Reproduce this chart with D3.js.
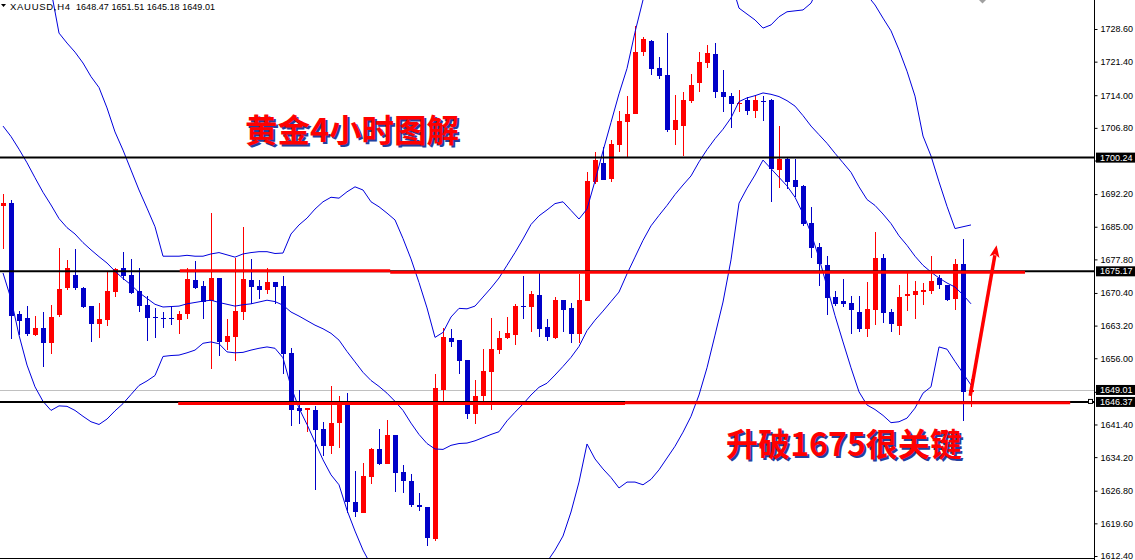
<!DOCTYPE html>
<html><head><meta charset="utf-8">
<script src="https://cdn.jsdelivr.net/npm/d3@7"></script>
<style>html,body{margin:0;padding:0;background:#fff;overflow:hidden}svg{display:block}</style>
</head><body>
<svg id="chart" width="1135" height="560"></svg>
<script>
// ---------------- DATA ----------------
const symbolLabel = "XAUUSD,H4";
const headerValues = "1648.47 1651.51 1645.18 1649.01";
const titleTop = "黄金4小时图解";
const titleBottom = "升破1675很关键";

const openP = [1689.48,1690.34,1665.84,1664.89,1661.21,1662.69,1659.47,1665.53,1671.60,1674.35,
1671.51,1667.52,1663.64,1664.52,1670.65,1675.92,1674.35,1670.83,1667.74,1665.03,
1664.92,1664.92,1664.43,1665.84,1673.16,1671.93,1668.69,1673.72,1659.62,1660.73,
1666.24,1673.16,1671.93,1671.13,1672.79,1671.93,1657.18,1644.98,1644.50,1644.59,
1640.42,1636.71,1641.81,1645.91,1624.21,1621.96,1629.88,1635.99,1632.68,1639.07,
1630.85,1628.93,1623.59,1623.17,1616.14,1649.00,1660.46,1660.02,1655.61,1643.81,
1647.72,1653.08,1657.82,1660.46,1661.17,1667.58,1667.41,1669.94,1662.89,1660.55,
1668.84,1667.12,1661.39,1668.69,1694.84,1699.16,1695.61,1703.11,1708.14,1709.94,
1723.42,1725.93,1720.11,1718.46,1706.42,1707.28,1712.79,1716.80,1721.12,1723.11,
1714.69,1713.89,1712.15,1712.94,1710.43,1712.81,1712.94,1697.60,1699.87,1695.21,
1694.05,1685.78,1680.51,1676.56,1669.48,1668.60,1668.20,1666.17,1662.54,1666.72,
1678.13,1666.24,1663.17,1669.79,1670.03,1670.65,1670.80,1673.72,1672.24,1669.00,
1676.71,1648.47];
const highP = [1692.24,1690.89,1666.33,1667.52,1665.23,1666.17,1667.74,1680.42,1677.66,1680.11,
1671.75,1667.52,1668.20,1675.15,1675.92,1679.40,1677.90,1675.92,1669.79,1667.08,
1666.24,1667.52,1666.33,1675.92,1677.44,1673.03,1688.05,1673.80,1664.65,1678.13,
1684.94,1677.90,1673.16,1675.92,1672.79,1674.13,1658.37,1649.00,1645.14,1645.53,
1641.92,1649.79,1647.74,1648.42,1631.09,1632.90,1636.21,1640.44,1642.38,1639.07,
1632.46,1630.47,1626.26,1623.17,1652.61,1662.67,1662.45,1660.02,1655.61,1651.25,
1658.04,1664.96,1662.01,1665.09,1668.00,1674.13,1670.74,1674.88,1664.74,1669.50,
1668.84,1668.22,1674.58,1696.96,1701.37,1702.56,1704.04,1710.43,1713.89,1729.33,
1726.88,1726.17,1722.40,1727.74,1714.13,1714.69,1718.70,1723.51,1725.07,1725.53,
1719.65,1714.51,1715.15,1713.58,1713.74,1713.89,1713.10,1707.28,1700.35,1699.96,
1694.20,1689.33,1681.43,1678.52,1670.80,1673.56,1669.64,1669.79,1672.79,1683.81,
1679.07,1666.88,1672.15,1674.75,1673.01,1672.55,1678.46,1674.35,1672.24,1677.90,
1682.38,1651.51];
const lowP = [1680.11,1660.18,1661.21,1660.97,1660.97,1654.11,1657.02,1665.07,1671.05,1671.05,
1667.10,1659.56,1660.57,1663.17,1669.55,1673.16,1670.19,1666.24,1659.78,1660.57,
1662.78,1663.33,1661.43,1664.65,1671.36,1664.74,1653.71,1656.49,1657.82,1655.46,
1664.52,1667.89,1669.06,1670.19,1668.05,1652.46,1641.12,1641.43,1639.71,1626.86,
1634.42,1635.00,1636.16,1621.96,1620.90,1621.96,1628.27,1632.46,1632.68,1626.50,
1626.33,1623.20,1622.27,1614.64,1615.61,1646.68,1658.59,1652.61,1642.71,1641.45,
1645.69,1644.50,1656.93,1660.24,1658.96,1664.70,1661.79,1660.73,1659.89,1660.24,
1661.74,1659.40,1659.40,1668.69,1694.44,1695.39,1694.84,1701.52,1700.42,1709.94,
1722.62,1718.46,1717.51,1705.87,1703.11,1700.51,1712.39,1714.75,1720.11,1713.34,
1710.19,1706.88,1710.34,1709.55,1709.00,1708.38,1690.50,1693.65,1693.41,1691.53,
1685.23,1678.06,1672.00,1665.53,1667.43,1667.28,1661.37,1661.76,1660.73,1663.33,
1663.73,1661.76,1661.21,1666.48,1664.67,1667.65,1670.25,1671.36,1668.60,1666.64,
1642.23,1645.18];
const closeP = [1690.25,1665.38,1664.28,1661.43,1662.69,1659.47,1665.07,1671.29,1675.92,1671.60,
1667.34,1663.64,1664.67,1670.83,1675.77,1674.11,1670.41,1667.52,1664.98,1664.81,
1664.74,1664.74,1665.69,1673.49,1671.60,1668.45,1673.72,1659.62,1660.90,1666.42,
1673.41,1671.75,1671.13,1672.79,1671.75,1657.02,1644.67,1644.28,1645.14,1640.26,
1636.71,1641.67,1646.35,1624.23,1622.20,1630.03,1636.03,1632.68,1639.07,1630.78,
1629.00,1623.59,1623.11,1616.45,1649.44,1660.75,1659.65,1655.46,1643.81,1647.72,
1653.19,1658.04,1660.55,1661.61,1667.58,1667.41,1670.25,1662.49,1660.73,1668.84,
1666.64,1661.39,1668.84,1694.99,1699.71,1695.39,1703.26,1708.29,1709.88,1723.51,
1726.48,1719.87,1718.30,1706.42,1708.53,1712.94,1716.25,1721.37,1723.33,1714.60,
1713.58,1712.15,1712.39,1710.58,1712.86,1712.59,1697.82,1699.87,1694.84,1693.80,
1685.62,1680.42,1676.87,1669.39,1667.98,1668.05,1666.55,1662.54,1666.88,1678.13,
1666.09,1663.48,1669.48,1670.19,1670.80,1671.13,1673.01,1672.24,1668.84,1676.71,
1648.47,1649.01];

// Bollinger bands (one value per candle)
const bandUpper = [1750.0,1749.0,1748.0,1746.8,1745.2,1742.5,1737.2,1727.7,1725.5,1723.5,
1721.1,1718.1,1715.7,1711.2,1705.9,1701.9,1697.5,1693.1,1689.1,1685.0,
1678.5,1678.5,1678.5,1678.7,1678.5,1678.5,1679.0,1679.3,1678.8,1678.3,
1679.0,1679.3,1679.5,1679.5,1679.1,1679.2,1683.4,1685.4,1686.9,1688.9,
1690.5,1691.5,1691.3,1692.7,1693.8,1693.1,1690.5,1689.4,1688.0,1686.5,
1682.4,1677.9,1672.7,1667.1,1660.6,1661.7,1665.1,1667.0,1666.9,1667.5,
1669.5,1671.5,1673.7,1676.5,1679.3,1682.3,1685.5,1687.4,1688.7,1690.1,
1690.5,1688.6,1686.7,1688.9,1695.1,1701.7,1708.0,1714.3,1719.9,1727.9,
1735.0,1741.0,1745.5,1749.0,1751.5,1753.0,1753.5,1752.5,1750.0,1746.5,
1742.5,1739.0,1733.2,1731.9,1730.6,1728.8,1729.5,1731.3,1732.4,1732.6,
1732.8,1734.3,1738.0,1741.5,1743.5,1744.0,1743.0,1740.5,1736.1,1733.9,
1731.0,1728.2,1724.0,1719.3,1713.8,1705.0,1700.6,1694.9,1689.5,1684.6,
1685.0,1685.4];
const bandMiddle = [1707.2,1704.9,1702.1,1699.1,1695.8,1692.6,1689.8,1686.8,1684.8,1683.4,
1681.5,1679.9,1678.4,1677.0,1675.2,1673.6,1672.2,1670.5,1669.2,1667.9,
1667.3,1667.4,1667.5,1668.0,1668.3,1668.6,1668.8,1668.3,1667.9,1667.5,
1667.8,1668.0,1668.4,1668.8,1668.5,1667.7,1666.2,1665.3,1664.3,1663.3,
1662.5,1661.5,1660.0,1657.5,1655.2,1652.9,1651.1,1649.8,1648.3,1646.5,
1644.5,1641.7,1639.2,1637.2,1636.0,1635.9,1636.8,1637.2,1637.3,1637.8,
1638.5,1639.2,1639.8,1642.2,1644.1,1645.9,1647.9,1649.6,1650.5,1652.3,
1654.2,1656.2,1658.6,1662.1,1664.4,1666.4,1668.5,1670.6,1674.6,1678.3,
1682.0,1685.2,1687.5,1689.7,1692.1,1694.2,1696.2,1699.3,1702.0,1704.4,
1706.5,1709.0,1712.6,1713.4,1713.9,1714.5,1714.2,1713.7,1712.8,1711.6,
1709.5,1707.2,1705.3,1703.4,1701.2,1699.1,1697.0,1693.8,1691.0,1689.7,
1687.8,1685.7,1683.0,1680.9,1678.5,1676.5,1675.0,1673.7,1672.6,1671.7,
1670.0,1668.0];
const bandLower = [1674.8,1669.1,1661.1,1654.5,1649.7,1646.5,1644.5,1645.5,1645.4,1644.5,
1643.2,1642.0,1641.4,1642.6,1644.4,1646.0,1648.0,1650.0,1651.0,1652.2,
1656.4,1656.6,1656.7,1657.2,1657.8,1659.3,1659.6,1659.2,1657.4,1657.2,
1657.3,1657.8,1658.2,1658.5,1658.2,1656.1,1649.7,1645.0,1641.4,1637.5,
1633.6,1630.3,1628.1,1622.5,1617.9,1613.7,1610.4,1608.8,1607.5,1606.3,
1605.4,1604.7,1604.2,1603.9,1603.8,1604.0,1604.4,1604.9,1605.5,1606.0,
1606.5,1607.0,1607.4,1607.9,1608.4,1608.9,1609.5,1610.2,1611.1,1613.7,
1616.8,1622.1,1628.7,1637.1,1633.8,1631.6,1629.7,1627.4,1628.7,1628.7,
1628.1,1629.3,1631.4,1634.0,1636.6,1639.7,1643.2,1647.9,1653.9,1661.1,
1668.4,1677.7,1690.2,1693.5,1696.4,1699.7,1697.8,1695.9,1694.0,1691.5,
1687.9,1683.6,1678.1,1671.8,1665.4,1659.6,1653.9,1648.6,1645.7,1644.7,
1643.4,1641.8,1642.0,1642.8,1645.0,1648.3,1649.7,1658.5,1658.0,1655.3,
1652.7,1650.1];

const tickValues = [1728.60,1721.40,1714.00,1706.80,1699.60,1692.20,1685.00,1677.80,1670.40,
1663.20,1656.00,1648.60,1641.40,1634.20,1626.80,1619.60,1612.40];
// tick labels that sit under a price tag in the reference
const hiddenTickLabels = [1699.60, 1648.60];

const blackLevels = [1700.24, 1675.17, 1646.37];
const bidPrice = 1649.01;
const priceTags = [1700.24, 1675.17, 1649.01, 1646.37];

// red trend-level segments (price, from candle index, to candle index)
const redLevel = [1675.27, 1674.97, 1646.02, 1646.17];
const redFrom  = [22.1, 48.4, 21.9, 77.75];
const redTo    = [48.4, 127.75, 77.75, 133.4];

// arrow (candle index, price)
const arrowFrom = [120.9, 1647.7];
const arrowTo   = [124.2, 1680.9];

// ---------------- CHART ----------------
const W = 1135, H = 560, axisX = 1094, plotBottom = 558;
const RED = "#ff0000", BLUE = "#0000c8", BAND = "#0000dd";
const x = d3.scaleLinear().domain([0, 121]).range([3, 971]);
const y = d3.scaleLinear().domain([1612.4, 1728.6]).range([556, 29]);

const svg = d3.select("#chart");
svg.append("rect").attr("width", W).attr("height", H).attr("fill", "#fff");
svg.append("defs").append("clipPath").attr("id", "plot")
  .append("rect").attr("x", 0).attr("y", 0).attr("width", axisX).attr("height", plotBottom);
const plot = svg.append("g").attr("clip-path", "url(#plot)");

// bid line
plot.append("line").attr("x1", 0).attr("x2", axisX)
  .attr("y1", Math.round(y(bidPrice)) + 0.5).attr("y2", Math.round(y(bidPrice)) + 0.5)
  .attr("stroke", "#c0c0c0").attr("stroke-width", 1);

// candles
const idx = d3.range(openP.length);
const cg = plot.append("g").attr("shape-rendering", "crispEdges");
cg.selectAll("line.wick").data(idx).join("line").attr("class", "wick")
  .attr("x1", i => Math.round(x(i)) + 0.5).attr("x2", i => Math.round(x(i)) + 0.5)
  .attr("y1", i => y(highP[i])).attr("y2", i => y(lowP[i]))
  .attr("stroke", i => closeP[i] >= openP[i] ? RED : BLUE).attr("stroke-width", 1);
cg.selectAll("rect.body").data(idx).join("rect").attr("class", "body")
  .attr("x", i => Math.round(x(i)) - 2).attr("width", 5)
  .attr("y", i => y(Math.max(openP[i], closeP[i])))
  .attr("height", i => Math.max(1, y(Math.min(openP[i], closeP[i])) - y(Math.max(openP[i], closeP[i]))))
  .attr("fill", i => closeP[i] >= openP[i] ? RED : BLUE);

// bands
const bandLine = d3.line().x((d, i) => x(i)).y(d => y(d));
[bandUpper, bandMiddle, bandLower].forEach(b => {
  plot.append("path").attr("d", bandLine(b)).attr("fill", "none")
    .attr("stroke", BAND).attr("stroke-width", 1);
});

// black horizontal levels
blackLevels.forEach(p => {
  plot.append("line").attr("x1", 0).attr("x2", axisX).attr("y1", y(p)).attr("y2", y(p))
    .attr("stroke", "#000").attr("stroke-width", 2);
});

// red level segments
redLevel.forEach((p, k) => {
  plot.append("line").attr("x1", x(redFrom[k])).attr("x2", x(redTo[k]))
    .attr("y1", y(p)).attr("y2", y(p)).attr("stroke", RED).attr("stroke-width", 3);
});

// selection square at right end of lower level
plot.append("rect").attr("x", 1088.5).attr("y", y(1646.37) - 2.5).attr("width", 4).attr("height", 4)
  .attr("fill", "#fff").attr("stroke", "#000").attr("stroke-width", 1);

// arrow
const ax1 = x(arrowFrom[0]), ay1 = y(arrowFrom[1]), ax2 = x(arrowTo[0]), ay2 = y(arrowTo[1]);
const dx = ax2 - ax1, dy = ay2 - ay1, len = Math.hypot(dx, dy), ux = dx / len, uy = dy / len;
const headL = 12, headW = 5;
const bx = ax2 - ux * headL, by = ay2 - uy * headL;
plot.append("line").attr("x1", ax1).attr("y1", ay1).attr("x2", bx + ux * 2).attr("y2", by + uy * 2)
  .attr("stroke", RED).attr("stroke-width", 3.5);
plot.append("path").attr("d",
  `M${ax2},${ay2}L${bx - uy * headW},${by + ux * headW}L${bx + ux * 3},${by + uy * 3}L${bx + uy * headW},${by - ux * headW}Z`)
  .attr("fill", RED);

// titles with shadow
function title(txt, tx, ty, tl) {
  [["#2440a0", 2, 2], [RED, 0, 0]].forEach(([c, ox, oy]) => {
    svg.append("text").attr("x", tx + ox).attr("y", ty + oy).text(txt)
      .attr("font-family", "'Noto Sans CJK SC', sans-serif").attr("font-weight", "bold")
      .attr("font-size", 32).attr("fill", c)
      .attr("textLength", tl).attr("lengthAdjust", "spacingAndGlyphs");
  });
}
title(titleTop, 245, 142, 214);
title(titleBottom, 726, 456, 236);

// frame lines
svg.append("line").attr("x1", 0).attr("x2", axisX).attr("y1", 558.5).attr("y2", 558.5)
  .attr("stroke", "#000").attr("stroke-width", 1);
svg.append("line").attr("x1", axisX + 0.5).attr("x2", axisX + 0.5).attr("y1", 0).attr("y2", H)
  .attr("stroke", "#000").attr("stroke-width", 1);

// right axis
const axis = d3.axisRight(y).tickValues(tickValues).tickSize(3).tickPadding(3)
  .tickFormat(d3.format(".2f"));
const ag = svg.append("g").attr("transform", `translate(${axisX + 0.5},0)`).call(axis);
ag.select(".domain").remove();
ag.selectAll(".tick").filter(d => hiddenTickLabels.includes(d)).select("text").remove();
ag.selectAll("text").attr("font-family", "'Liberation Sans', Arial, sans-serif")
  .attr("font-size", 9).attr("fill", "#000");
ag.selectAll("line").attr("stroke", "#000");

// price tags
priceTags.forEach(p => {
  const cy = y(p);
  svg.append("rect").attr("x", 1096).attr("y", cy - 5).attr("width", 39).attr("height", 10).attr("fill", "#000");
  svg.append("text").attr("x", 1100).attr("y", cy).attr("dy", "0.34em").text(d3.format(".2f")(p))
    .attr("font-family", "'Liberation Sans', Arial, sans-serif").attr("font-size", 9).attr("fill", "#fff");
});

// header
svg.append("path").attr("d", "M1,4L6,4L3.5,7Z").attr("fill", "#000");
svg.append("text").attr("x", 10).attr("y", 9.5).text(symbolLabel)
  .attr("font-family", "'Liberation Sans', Arial, sans-serif").attr("font-size", 9.5)
  .attr("textLength", 60).attr("lengthAdjust", "spacing").attr("fill", "#000");
svg.append("text").attr("x", 76).attr("y", 9.5).text(headerValues)
  .attr("font-family", "'Liberation Sans', Arial, sans-serif").attr("font-size", 9)
  .attr("textLength", 139).attr("lengthAdjust", "spacing").attr("fill", "#000");
// small shift marker at top
svg.append("path").attr("d", "M979,0L986,0L982.5,3.5Z").attr("fill", "#a0a0a0");
</script>
</body></html>
